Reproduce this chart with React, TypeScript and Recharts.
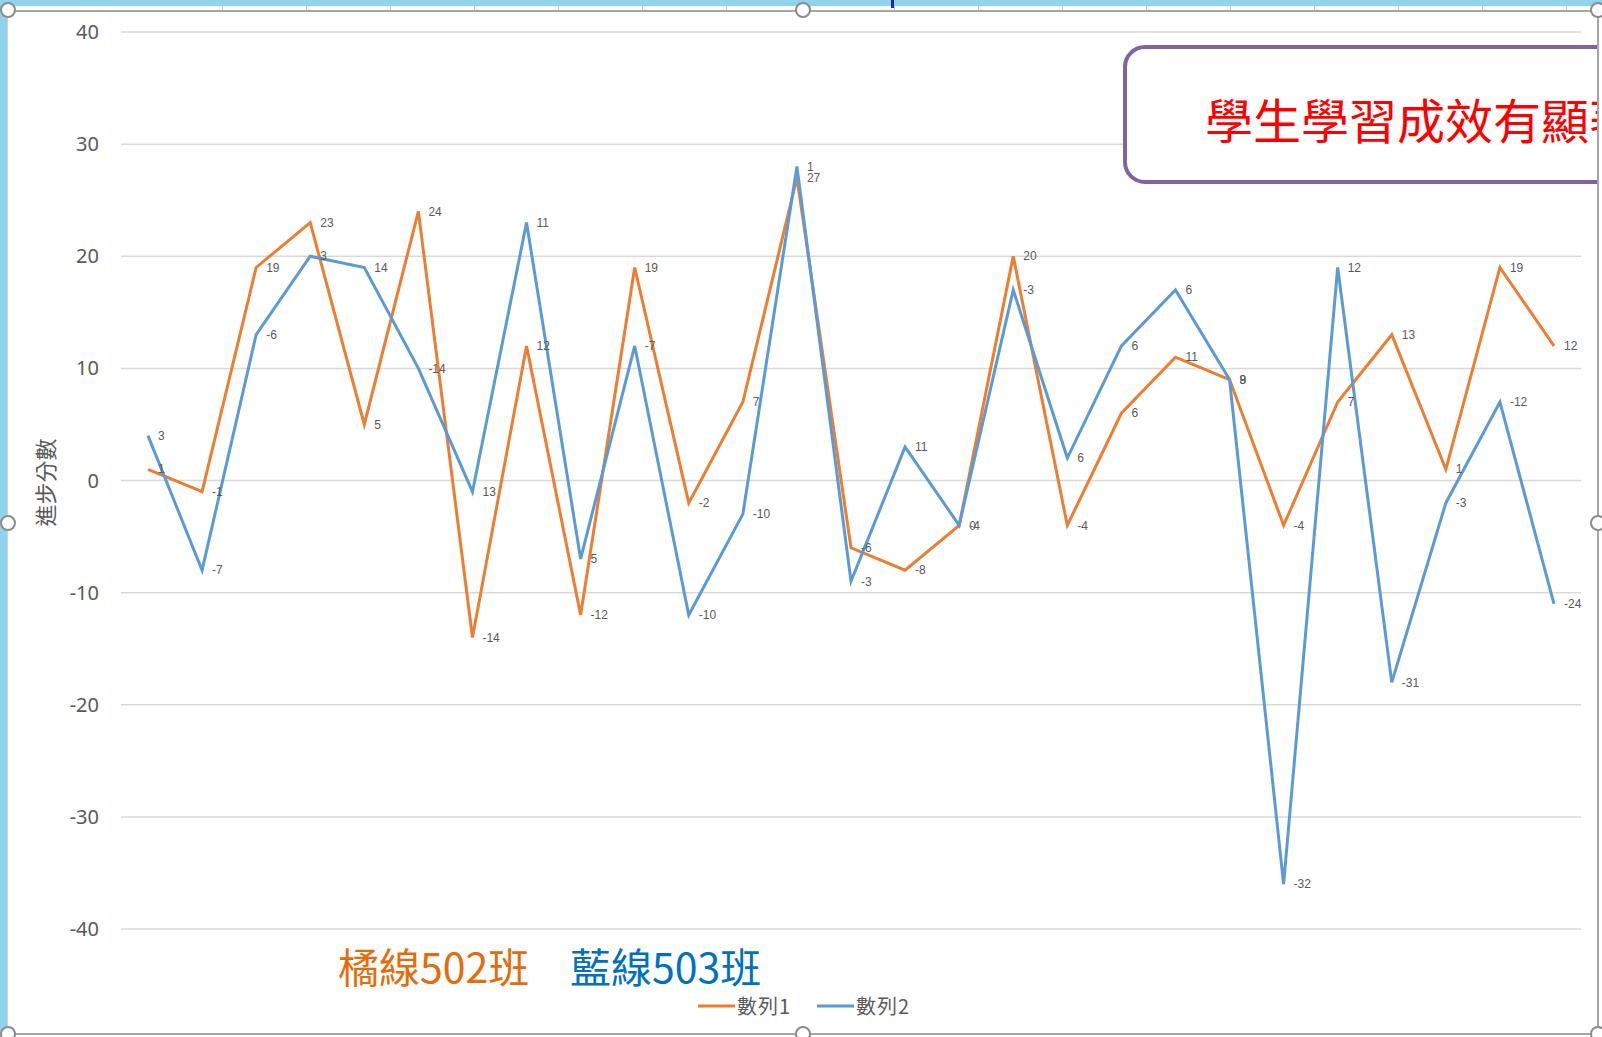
import React from 'react';
import { LineChart, Line, XAxis, YAxis, CartesianGrid, Legend, LabelList, Label } from 'recharts';

// 27 students, progress scores for class 502 (orange) and 503 (blue)
const students = [
  '1', '2', '3', '4', '5', '6', '7', '8', '9', '10', '11', '12', '13', '14',
  '15', '16', '17', '18', '19', '20', '21', '22', '23', '24', '25', '26', '27',
];
const class502 = [1, -1, 19, 23, 5, 24, -14, 12, -12, 19, -2, 7, 27, -6, -8, -4, 20, -4, 6, 11, 9, -4, 7, 13, 1, 19, 12];
const class503 = [4, -8, 13, 20, 19, 10, -1, 23, -7, 12, -12, -3, 28, -9, 3, -4, 17, 2, 12, 17, 9, -36, 19, -18, -2, 7, -11];
// the blue series shows labels taken from another column
const class503Labels = [3, -7, -6, 3, 14, -14, 13, 11, 5, -7, -10, -10, 1, -3, 11, 0, -3, 6, 6, 6, 8, -32, 12, -31, -3, -12, -24];
const yTicks = [-40, -30, -20, -10, 0, 10, 20, 30, 40];

const seriesNames = ['數列1', '數列2'];
const colors = ['#ED7D31', '#5B9BD5'];

const data = students.map((s, i) => ({
  student: s,
  s502: class502[i],
  s503: class503[i],
  label503: class503Labels[i],
}));

const CJK = '"Noto Sans CJK TC", "Noto Sans", sans-serif';
const gray = '#595959';
const frameBlue = '#8FD3EF';

const renderPointLabel = (props: any) => {
  const { x, y, value } = props;
  return (
    <text x={x + 10} y={y} dy="0.35em" fontSize={12} fill={gray} fontFamily='"Liberation Sans", sans-serif'>
      {value}
    </text>
  );
};

const renderYTitle = (props: any) => {
  const vb = props.viewBox ?? { x: 0, y: 32, width: 121, height: 897 };
  const cx = vb.x + 44;
  const cy = vb.y + vb.height / 2 + 2;
  return (
    <text
      x={cx}
      y={cy}
      transform={`rotate(-90 ${cx} ${cy})`}
      textAnchor="middle"
      dominantBaseline="central"
      fontSize={22}
      fill={gray}
      fontFamily={CJK}
    >
      進步分數
    </text>
  );
};

const renderXTitle = (props: any) => {
  const vb = props.viewBox ?? { x: 121, y: 929, width: 1460, height: 0 };
  const cx = vb.x + vb.width / 2;
  return (
    <text x={cx} y={vb.y - 4} textAnchor="middle" dominantBaseline="central" fontSize={22} fill={gray} fontFamily={CJK}>
      學生
    </text>
  );
};

const renderLegend = (props: any) => {
  const { payload = [] } = props;
  return (
    <div style={{ display: 'flex', paddingLeft: 698, fontFamily: CJK }}>
      {payload.map((entry: any) => (
        <div key={entry.value} style={{ display: 'flex', alignItems: 'center', width: 119, height: 24 }}>
          <svg width={37} height={4}>
            <line x1={0} y1={2} x2={37} y2={2} stroke={entry.color} strokeWidth={3} />
          </svg>
          <span style={{ fontSize: 20, color: gray, marginLeft: 2, lineHeight: '24px', letterSpacing: 1 }}>{entry.value}</span>
        </div>
      ))}
    </div>
  );
};

const handles = [
  [8, 10], [803, 10], [1598, 10],
  [8, 523], [1598, 523],
  [8, 1034], [803, 1034], [1598, 1034],
];

const rulerTicks: number[] = [];
for (let x = 222; x < 1600; x += 84) rulerTicks.push(x);

export default function App() {
  return (
    <div style={{ position: 'absolute', left: 0, top: 0, width: 1602, height: 1037, background: '#fff', overflow: 'hidden' }}>
      <LineChart width={1602} height={1037} data={data} margin={{ top: 32, right: 21, bottom: 108, left: 0 }}>
        <CartesianGrid vertical={false} stroke="#d9d9d9" strokeWidth={1.5} />
        <XAxis
          dataKey="student"
          tick={false}
          axisLine={false}
          tickLine={false}
          height={0}
          padding={{ left: 27, right: 27 }}
        >
          <Label content={renderXTitle} />
        </XAxis>
        <YAxis
          domain={[-40, 40]}
          ticks={yTicks}
          width={121}
          axisLine={false}
          tickLine={false}
          tickSize={0}
          tickMargin={22}
          tick={{ fontSize: 20, fill: gray, fontFamily: '"Noto Sans", sans-serif' }}
        >
          <Label content={renderYTitle} />
        </YAxis>
        <Legend
          verticalAlign="middle"
          align="center"
          content={renderLegend}
          wrapperStyle={{ left: 0, top: 994, width: 1602 }}
        />
        <Line
          type="linear"
          dataKey="s502"
          name={seriesNames[0]}
          stroke={colors[0]}
          strokeWidth={3}
          dot={false}
          isAnimationActive={false}
        >
          <LabelList dataKey="s502" content={renderPointLabel} />
        </Line>
        <Line
          type="linear"
          dataKey="s503"
          name={seriesNames[1]}
          stroke={colors[1]}
          strokeWidth={3}
          dot={false}
          isAnimationActive={false}
        >
          <LabelList dataKey="label503" content={renderPointLabel} />
        </Line>
      </LineChart>

      {/* class notes under the plot */}
      <div style={{ position: 'absolute', left: 338, top: 942, fontSize: 41, lineHeight: '46px', color: '#E46C0A', fontFamily: CJK }}>
        橘線502班
      </div>
      <div style={{ position: 'absolute', left: 570, top: 942, fontSize: 41, lineHeight: '46px', color: '#0070C0', fontFamily: CJK }}>
        藍線503班
      </div>

      {/* callout box, cut off by the sheet edge */}
      <div style={{ position: 'absolute', left: 1100, top: 40, width: 498, height: 150, overflow: 'hidden' }}>
        <div
          style={{
            position: 'absolute',
            left: 23,
            top: 5,
            width: 560,
            height: 131,
            border: '4.5px solid #8064A2',
            borderRadius: 22,
            background: '#fff',
          }}
        />
        <div
          style={{
            position: 'absolute',
            left: 105,
            top: 50,
            fontSize: 48,
            lineHeight: '56px',
            color: '#FF0000',
            fontFamily: CJK,
            whiteSpace: 'nowrap',
          }}
        >
          學生學習成效有顯著進步
        </div>
      </div>

      {/* Excel selection frame */}
      <div style={{ position: 'absolute', left: 0, top: 0, width: 1602, height: 6, background: frameBlue }} />
      <div style={{ position: 'absolute', left: 0, top: 0, width: 7, height: 1037, background: frameBlue }} />
      {rulerTicks.map((x) => (
        <div key={x} style={{ position: 'absolute', left: x, top: 6, width: 1, height: 4, background: '#c8c8c8' }} />
      ))}
      <div style={{ position: 'absolute', left: 891, top: 0, width: 3, height: 8, background: '#1f1fd0' }} />
      <div style={{ position: 'absolute', left: 8, top: 10, width: 1590, height: 2, background: '#a6a6a6' }} />
      <div style={{ position: 'absolute', left: 7, top: 10, width: 1, height: 1027, background: '#d0d0d0' }} />
      <div style={{ position: 'absolute', left: 1597, top: 10, width: 2, height: 1024, background: '#a6a6a6' }} />
      <div style={{ position: 'absolute', left: 8, top: 1033, width: 1590, height: 2, background: '#a6a6a6' }} />
      {handles.map(([x, y]) => (
        <div
          key={`${x}-${y}`}
          style={{
            position: 'absolute',
            left: x - 8,
            top: y - 8,
            width: 12,
            height: 12,
            borderRadius: '50%',
            border: '2px solid #8c8c8c',
            background: '#fff',
          }}
        />
      ))}
    </div>
  );
}
